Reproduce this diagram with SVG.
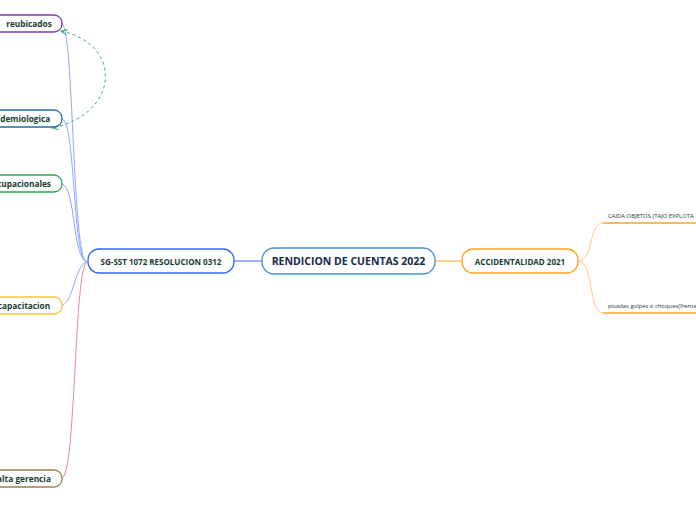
<svg xmlns="http://www.w3.org/2000/svg" width="696" height="520" viewBox="0 0 696 520">
<defs>
<style>
.t{font-family:"Open Sans","Noto Sans","Liberation Sans",sans-serif;font-weight:bold;fill:#163d33;text-anchor:middle;dominant-baseline:central}
.leaf{font-family:"Open Sans","Noto Sans","Liberation Sans",sans-serif;font-size:5.9px;fill:#333;}
.c{fill:none;stroke-width:1}
.box{fill:#fff;stroke-width:1.3}
</style>
<marker id="ah" viewBox="0 0 10 10" refX="9" refY="5" markerWidth="7" markerHeight="7" orient="auto-start-reverse" markerUnits="userSpaceOnUse">
<path d="M0,1 L9,5 L0,9" fill="none" stroke="#3cb371" stroke-width="1.5"/>
</marker>
</defs>
<rect width="696" height="520" fill="#fff"/>
<g id="connectors">
<path class="c" stroke="#3366ff" d="M234,261 L262,261"/>
<path class="c" stroke="#f5a623" d="M435,261 L462,261"/>
<path class="c" stroke="#8fa8ff" d="M87,262 C72,262 74,28 62,24"/>
<path class="c" stroke="#8fa8ff" d="M87,262 C72,260 76,122 62,119"/>
<path class="c" stroke="#8fa8ff" d="M87,262 C72,258 76,188 62,184"/>
<path class="c" stroke="#8fa8ff" d="M87,262 C74,266 74,302 62,305"/>
<path class="c" stroke="#e08a98" d="M87,262 C74,268 76,474 62,478"/>
<path class="c" stroke="#ffcc80" d="M578,261 C594,261 588,223 603,223"/>
<path class="c" stroke="#ffcc80" d="M578,261 C594,261 588,313 603,313"/>
<path fill="none" stroke="#f5a623" stroke-width="1.5" d="M603,223 L696,223 M603,313 L696,313"/>
<path fill="none" stroke="#3cb371" stroke-width="1" stroke-dasharray="3,3" marker-start="url(#ah)" marker-end="url(#ah)" d="M61,31 C125,45 118,115 52,128"/>
</g>
<g id="n-reubicados">
<rect class="box" x="-30" y="15" width="92" height="17" rx="8" stroke="#7b3f9e"/>
<text class="t" x="29" y="23.5" font-size="8.3">reubicados</text>
</g>
<g id="n-epidemiologica">
<rect class="box" x="-60" y="110" width="122" height="17" rx="8" stroke="#1f6fa8"/>
<text class="t" x="24" y="118.5" font-size="8.3">idemiologica</text>
</g>
<g id="n-ocupacionales">
<rect class="box" x="-60" y="175" width="122" height="17" rx="8" stroke="#2aa55a"/>
<text class="t" x="24" y="183.5" font-size="8.3">cupacionales</text>
</g>
<g id="n-capacitacion">
<rect class="box" x="-60" y="297" width="122" height="17" rx="8" stroke="#f5c342"/>
<text class="t" x="24" y="305.5" font-size="8.3">capacitacion</text>
</g>
<g id="n-altagerencia">
<rect class="box" x="-60" y="470" width="122" height="17" rx="8" stroke="#a08050"/>
<text class="t" x="24" y="478.5" font-size="8.3">alta gerencia</text>
</g>
<g id="n-sgsst">
<rect class="box" x="88" y="249" width="146" height="24" rx="11" stroke="#3366ff"/>
<text class="t" x="161" y="261" font-size="8">SG-SST 1072 RESOLUCION 0312</text>
</g>
<g id="n-root">
<rect class="box" x="262" y="248" width="173" height="26" rx="12" stroke="#4a90c8"/>
<text class="t" x="348.5" y="261" font-size="10.5" style="fill:#14284b">RENDICION DE CUENTAS 2022</text>
</g>
<g id="n-accidentalidad">
<rect class="box" x="462" y="249" width="116" height="24" rx="11" stroke="#f5a623"/>
<text class="t" x="520" y="261" font-size="8">ACCIDENTALIDAD 2021</text>
</g>
<g id="n-caida">
<text class="leaf" x="608" y="218">CAIDA OBJETOS (TAJO EXPLOTA</text>
</g>
<g id="n-pisadas">
<text class="leaf" x="608" y="308">pisadas golpes o choques(frente</text>
</g>
</svg>
